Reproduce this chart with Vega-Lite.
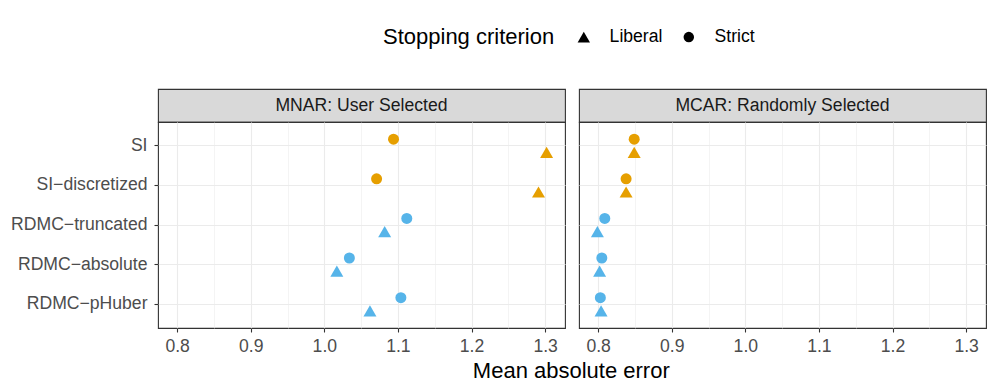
{
  "$schema": "https://vega.github.io/schema/vega-lite/v6.json",
  "background": "white",
  "padding": {"left": 10, "top": 28, "right": 10, "bottom": 5},
  "spacing": 12,
  "title": {
    "text": "Mean absolute error",
    "orient": "bottom",
    "anchor": "middle",
    "fontSize": 22,
    "fontWeight": "normal",
    "color": "black",
    "offset": 6,
    "dx": 73
  },
  "config": {
    "font": "Liberation Sans",
    "view": {"stroke": "#333333", "strokeWidth": 1.1},
    "legend": {
      "direction": "horizontal",
      "titleOrient": "left",
      "titleFontSize": 22,
      "titleFontWeight": "normal",
      "titleColor": "black",
      "titlePadding": 20,
      "labelFontSize": 17.6,
      "labelColor": "black",
      "labelOffset": 17,
      "columnPadding": 17,
      "symbolSize": 110,
      "symbolFillColor": "black",
      "symbolStrokeColor": "black",
      "symbolStrokeWidth": 0
    }
  },
  "datasets": {
    "strips": [
      {"panel": "MNAR: User Selected"},
      {"panel": "MCAR: Randomly Selected"}
    ],
    "points": [
      {"panel": "MNAR: User Selected", "method": "SI", "group": "SI", "criterion": "Strict", "mae": 1.094},
      {"panel": "MNAR: User Selected", "method": "SI", "group": "SI", "criterion": "Liberal", "mae": 1.302},
      {"panel": "MNAR: User Selected", "method": "SI−discretized", "group": "SI", "criterion": "Strict", "mae": 1.071},
      {"panel": "MNAR: User Selected", "method": "SI−discretized", "group": "SI", "criterion": "Liberal", "mae": 1.291},
      {"panel": "MNAR: User Selected", "method": "RDMC−truncated", "group": "RDMC", "criterion": "Strict", "mae": 1.112},
      {"panel": "MNAR: User Selected", "method": "RDMC−truncated", "group": "RDMC", "criterion": "Liberal", "mae": 1.082},
      {"panel": "MNAR: User Selected", "method": "RDMC−absolute", "group": "RDMC", "criterion": "Strict", "mae": 1.034},
      {"panel": "MNAR: User Selected", "method": "RDMC−absolute", "group": "RDMC", "criterion": "Liberal", "mae": 1.017},
      {"panel": "MNAR: User Selected", "method": "RDMC−pHuber", "group": "RDMC", "criterion": "Strict", "mae": 1.104},
      {"panel": "MNAR: User Selected", "method": "RDMC−pHuber", "group": "RDMC", "criterion": "Liberal", "mae": 1.062},
      {"panel": "MCAR: Randomly Selected", "method": "SI", "group": "SI", "criterion": "Strict", "mae": 0.849},
      {"panel": "MCAR: Randomly Selected", "method": "SI", "group": "SI", "criterion": "Liberal", "mae": 0.849},
      {"panel": "MCAR: Randomly Selected", "method": "SI−discretized", "group": "SI", "criterion": "Strict", "mae": 0.838},
      {"panel": "MCAR: Randomly Selected", "method": "SI−discretized", "group": "SI", "criterion": "Liberal", "mae": 0.838},
      {"panel": "MCAR: Randomly Selected", "method": "RDMC−truncated", "group": "RDMC", "criterion": "Strict", "mae": 0.809},
      {"panel": "MCAR: Randomly Selected", "method": "RDMC−truncated", "group": "RDMC", "criterion": "Liberal", "mae": 0.799},
      {"panel": "MCAR: Randomly Selected", "method": "RDMC−absolute", "group": "RDMC", "criterion": "Strict", "mae": 0.805},
      {"panel": "MCAR: Randomly Selected", "method": "RDMC−absolute", "group": "RDMC", "criterion": "Liberal", "mae": 0.802},
      {"panel": "MCAR: Randomly Selected", "method": "RDMC−pHuber", "group": "RDMC", "criterion": "Strict", "mae": 0.803},
      {"panel": "MCAR: Randomly Selected", "method": "RDMC−pHuber", "group": "RDMC", "criterion": "Liberal", "mae": 0.804}
    ]
  },
  "hconcat": [
    {
      "bounds": "flush",
      "spacing": 0,
      "vconcat": [
        {
          "data": {"name": "strips"},
          "transform": [{"filter": "datum.panel === 'MNAR: User Selected'"}],
          "width": 407,
          "height": 33,
          "view": {"fill": "#D9D9D9", "stroke": "#333333", "strokeWidth": 1.1},
          "mark": {"type": "text", "fontSize": 17.6, "color": "#1A1A1A", "baseline": "middle", "align": "center"},
          "encoding": {
            "x": {"field": "panel", "type": "nominal", "axis": null},
            "y": {"field": "panel", "type": "nominal", "axis": null},
            "text": {"field": "panel"}
          }
        },
        {
          "data": {"name": "points"},
          "transform": [{"filter": "datum.panel === 'MNAR: User Selected'"}],
          "width": 407,
          "height": 206,
          "layer": [
            {
              "mark": {"type": "point", "opacity": 0},
              "encoding": {
                "x": {
                  "field": "mae", "type": "quantitative",
                  "scale": {"domain": [0.774, 1.327], "nice": false, "zero": false},
                  "axis": {"orient": "top", "values": [0.85, 0.95, 1.05, 1.15, 1.25], "grid": true, "gridColor": "#EBEBEB", "gridWidth": 0.55, "labels": false, "ticks": false, "domain": false, "title": null}
                }
              }
            },
            {
              "mark": {"type": "point", "filled": true, "size": 121, "opacity": 1, "strokeWidth": 0},
              "encoding": {
                "x": {
                  "field": "mae", "type": "quantitative",
                  "scale": {"domain": [0.774, 1.327], "nice": false, "zero": false},
                  "axis": {"orient": "bottom", "values": [0.8, 0.9, 1.0, 1.1, 1.2, 1.3], "format": ".1f", "grid": true, "gridColor": "#EBEBEB", "gridWidth": 1.1, "domain": false, "tickColor": "#333333", "tickWidth": 1.1, "tickSize": 4, "labelFontSize": 17.6, "labelColor": "#4D4D4D", "labelPadding": 5, "title": null}
                },
                "y": {
                  "field": "method", "type": "nominal",
                  "sort": ["SI", "SI−discretized", "RDMC−truncated", "RDMC−absolute", "RDMC−pHuber"],
                  "scale": {"type": "band", "paddingInner": 0, "paddingOuter": 0.1},
                  "axis": {"title": null, "grid": true, "bandPosition": 0.5, "gridColor": "#EBEBEB", "gridWidth": 1.1, "domain": false, "tickColor": "#333333", "tickWidth": 1.1, "tickSize": 4, "labelFontSize": 17.6, "labelColor": "#4D4D4D", "labelPadding": 7}
                },
                "yOffset": {
                  "field": "criterion", "type": "nominal",
                  "sort": ["Strict", "Liberal"],
                  "scale": {"type": "point", "padding": 1.11}
                },
                "color": {
                  "field": "group", "type": "nominal",
                  "scale": {"domain": ["SI", "RDMC"], "range": ["#E69F00", "#56B4E9"]},
                  "legend": null
                },
                "shape": {
                  "field": "criterion", "type": "nominal",
                  "title": "Stopping criterion",
                  "scale": {"domain": ["Liberal", "Strict"], "range": ["M0,-1.02L1.18,1.02L-1.18,1.02Z", "circle"]},
                  "legend": {"orient": "none", "legendX": 225, "legendY": -61, "symbolFillColor": "black", "symbolStrokeColor": "black"}
                }
              }
            }
          ],
          "resolve": {"axis": {"x": "independent"}}
        }
      ]
    },
    {
      "bounds": "flush",
      "spacing": 0,
      "vconcat": [
        {
          "data": {"name": "strips"},
          "transform": [{"filter": "datum.panel === 'MCAR: Randomly Selected'"}],
          "width": 407,
          "height": 33,
          "view": {"fill": "#D9D9D9", "stroke": "#333333", "strokeWidth": 1.1},
          "mark": {"type": "text", "fontSize": 17.6, "color": "#1A1A1A", "baseline": "middle", "align": "center"},
          "encoding": {
            "x": {"field": "panel", "type": "nominal", "axis": null},
            "y": {"field": "panel", "type": "nominal", "axis": null},
            "text": {"field": "panel"}
          }
        },
        {
          "data": {"name": "points"},
          "transform": [{"filter": "datum.panel === 'MCAR: Randomly Selected'"}],
          "width": 407,
          "height": 206,
          "layer": [
            {
              "mark": {"type": "point", "opacity": 0},
              "encoding": {
                "x": {
                  "field": "mae", "type": "quantitative",
                  "scale": {"domain": [0.774, 1.327], "nice": false, "zero": false},
                  "axis": {"orient": "top", "values": [0.85, 0.95, 1.05, 1.15, 1.25], "grid": true, "gridColor": "#EBEBEB", "gridWidth": 0.55, "labels": false, "ticks": false, "domain": false, "title": null}
                }
              }
            },
            {
              "mark": {"type": "point", "filled": true, "size": 121, "opacity": 1, "strokeWidth": 0},
              "encoding": {
                "x": {
                  "field": "mae", "type": "quantitative",
                  "scale": {"domain": [0.774, 1.327], "nice": false, "zero": false},
                  "axis": {"orient": "bottom", "values": [0.8, 0.9, 1.0, 1.1, 1.2, 1.3], "format": ".1f", "grid": true, "gridColor": "#EBEBEB", "gridWidth": 1.1, "domain": false, "tickColor": "#333333", "tickWidth": 1.1, "tickSize": 4, "labelFontSize": 17.6, "labelColor": "#4D4D4D", "labelPadding": 5, "title": null}
                },
                "y": {
                  "field": "method", "type": "nominal",
                  "sort": ["SI", "SI−discretized", "RDMC−truncated", "RDMC−absolute", "RDMC−pHuber"],
                  "scale": {"type": "band", "paddingInner": 0, "paddingOuter": 0.1},
                  "axis": {"title": null, "grid": true, "bandPosition": 0.5, "gridColor": "#EBEBEB", "gridWidth": 1.1, "domain": false, "ticks": false, "labels": false}
                },
                "yOffset": {
                  "field": "criterion", "type": "nominal",
                  "sort": ["Strict", "Liberal"],
                  "scale": {"type": "point", "padding": 1.11}
                },
                "color": {
                  "field": "group", "type": "nominal",
                  "scale": {"domain": ["SI", "RDMC"], "range": ["#E69F00", "#56B4E9"]},
                  "legend": null
                },
                "shape": {
                  "field": "criterion", "type": "nominal",
                  "title": "Stopping criterion",
                  "scale": {"domain": ["Liberal", "Strict"], "range": ["M0,-1.02L1.18,1.02L-1.18,1.02Z", "circle"]},
                  "legend": {"orient": "none", "legendX": 225, "legendY": -61, "symbolFillColor": "black", "symbolStrokeColor": "black"}
                }
              }
            }
          ],
          "resolve": {"axis": {"x": "independent"}}
        }
      ]
    }
  ]
}
